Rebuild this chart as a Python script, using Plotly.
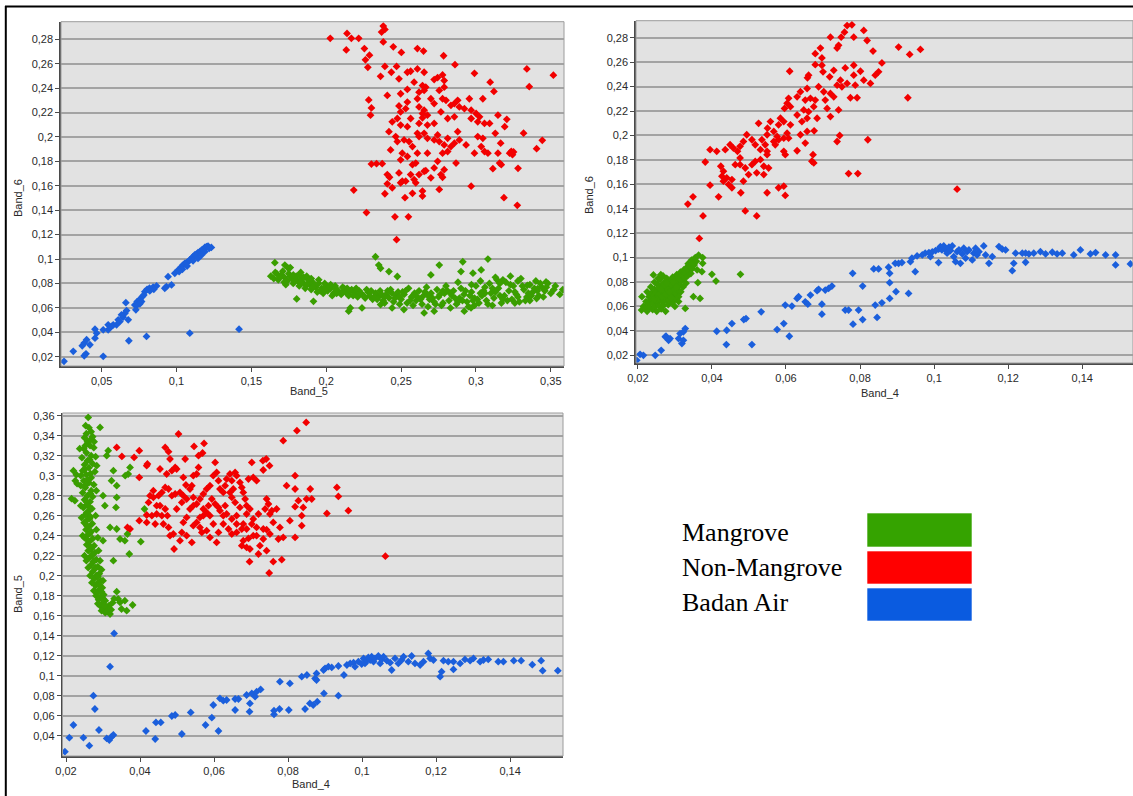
import plotly.graph_objects as go

W, H = 1133, 796

# ---------------- data: panel 1 (Band_5 vs Band_6) ----------------
p1_mangrove = [
    (0.163,0.086),(0.165,0.084),(0.167,0.088),(0.168,0.083),(0.170,0.087),(0.171,0.090),(0.172,0.085),(0.174,0.082),
    (0.175,0.088),(0.176,0.093),(0.177,0.084),(0.178,0.080),(0.180,0.086),(0.181,0.082),(0.182,0.078),(0.183,0.089),
    (0.184,0.084),(0.185,0.080),(0.186,0.076),(0.188,0.083),(0.189,0.079),(0.190,0.075),(0.191,0.081),(0.193,0.077),
    (0.194,0.073),(0.195,0.080),(0.197,0.076),(0.198,0.072),(0.200,0.078),(0.201,0.074),(0.203,0.076),(0.205,0.072),
    (0.206,0.078),(0.208,0.074),(0.210,0.071),(0.212,0.076),(0.213,0.073),(0.215,0.070),(0.217,0.075),(0.219,0.072),
    (0.221,0.069),(0.222,0.074),(0.224,0.071),(0.226,0.068),(0.228,0.073),(0.229,0.070),(0.231,0.067),(0.233,0.072),
    (0.235,0.069),(0.236,0.074),(0.238,0.066),(0.240,0.071),(0.242,0.068),(0.243,0.075),(0.245,0.065),(0.247,0.070),
    (0.248,0.073),(0.250,0.067),(0.252,0.071),(0.254,0.064),(0.255,0.076),(0.257,0.069),(0.259,0.072),(0.260,0.066),
    (0.262,0.074),(0.264,0.063),(0.265,0.070),(0.267,0.077),(0.269,0.067),(0.270,0.072),(0.272,0.065),(0.274,0.075),
    (0.275,0.069),(0.277,0.062),(0.279,0.072),(0.280,0.078),(0.282,0.066),(0.284,0.070),(0.285,0.074),(0.287,0.063),
    (0.289,0.068),(0.290,0.076),(0.292,0.071),(0.294,0.065),(0.295,0.061),(0.297,0.073),(0.299,0.068),(0.300,0.078),
    (0.302,0.064),(0.304,0.070),(0.305,0.074),(0.307,0.066),(0.309,0.080),(0.310,0.072),(0.312,0.068),(0.314,0.083),
    (0.315,0.076),(0.317,0.064),(0.319,0.070),(0.320,0.081),(0.322,0.074),(0.324,0.067),(0.325,0.078),(0.327,0.071),
    (0.329,0.065),(0.330,0.084),(0.332,0.075),(0.334,0.069),(0.336,0.079),(0.338,0.073),(0.340,0.082),(0.342,0.070),
    (0.344,0.077),(0.346,0.074),(0.348,0.080),(0.350,0.072),(0.353,0.078),
    (0.166,0.089),(0.169,0.085),(0.173,0.079),(0.176,0.086),(0.179,0.083),(0.182,0.087),(0.185,0.085),(0.187,0.079),
    (0.190,0.084),(0.192,0.078),(0.196,0.074),(0.199,0.080),(0.202,0.077),(0.204,0.070),(0.207,0.075),(0.211,0.073),
    (0.214,0.076),(0.218,0.070),(0.223,0.072),(0.227,0.075),(0.232,0.069),(0.237,0.071),(0.241,0.074),(0.246,0.068),
    (0.251,0.073),(0.256,0.066),(0.261,0.069),(0.266,0.073),(0.271,0.068),(0.276,0.071),(0.281,0.074),(0.286,0.068),
    (0.291,0.066),(0.296,0.070),(0.301,0.067),(0.306,0.072),(0.311,0.076),(0.316,0.070),(0.321,0.066),(0.326,0.073),
    (0.331,0.078),(0.335,0.072),(0.339,0.076),(0.343,0.080),(0.313,0.085),(0.318,0.083),(0.323,0.086),(0.328,0.082),
    (0.303,0.082),(0.297,0.079),(0.288,0.081),(0.278,0.064),(0.268,0.061),(0.258,0.062),(0.249,0.063),(0.239,0.064),
    (0.244,0.060),(0.283,0.060),(0.299,0.062),(0.311,0.062),(0.326,0.064),(0.336,0.066),(0.345,0.069),(0.352,0.075),
    (0.356,0.071),
    (0.172,0.081),(0.178,0.087),(0.183,0.081),(0.187,0.086),(0.191,0.077),(0.195,0.083),(0.199,0.075),(0.203,0.079),
    (0.207,0.072),(0.211,0.077),(0.216,0.074),(0.220,0.076),(0.225,0.070),(0.230,0.074),(0.234,0.067),(0.239,0.069),
    (0.244,0.072),(0.249,0.069),(0.253,0.074),(0.258,0.070),(0.263,0.067),(0.268,0.070),(0.273,0.063),(0.278,0.074),
    (0.283,0.072),(0.288,0.065),(0.293,0.074),(0.298,0.066),(0.303,0.072),(0.308,0.063),(0.313,0.073),(0.318,0.067),
    (0.323,0.079),(0.328,0.069),(0.333,0.066),(0.337,0.070),(0.341,0.074),(0.347,0.077),(0.316,0.080),(0.306,0.077),
    (0.2329,0.1019),(0.2351,0.0951),(0.2363,0.0924),(0.2419,0.0897),(0.2475,0.0857),(0.1657,0.0970),(0.1724,0.0951),
    (0.1747,0.0924),(0.2755,0.0951),(0.2912,0.0978),(0.3080,0.1000),(0.2980,0.0884),(0.3035,0.0911),(0.2900,0.0897),
    (0.2699,0.0870),(0.1803,0.0673),(0.1915,0.0654),(0.2161,0.0600),(0.2150,0.0573),(0.2239,0.0600),(0.2363,0.0627),
    (0.2519,0.0586),(0.2654,0.0559),(0.2721,0.0573),(0.2922,0.0573),(0.2967,0.0600),(0.3468,0.0812),(0.3580,0.0750),
    (0.3413,0.0758),(0.3405,0.0677),(0.3343,0.0785),
]
p1_nonmangrove = [
    (0.2027,0.2808),(0.2139,0.2848),(0.2168,0.2808),(0.2217,0.2808),(0.2134,0.2713),(0.2255,0.2724),(0.2289,0.2670),
    (0.2262,0.2632),(0.2278,0.2570),(0.2381,0.2908),(0.2392,0.2881),(0.2370,0.2859),(0.2381,0.2778),(0.2448,0.2738),
    (0.2502,0.2692),(0.2609,0.2724),(0.2650,0.2703),(0.2784,0.2665),(0.2860,0.2592),(0.2363,0.2497),(0.2392,0.2578),
    (0.2435,0.2530),(0.2470,0.2578),(0.2486,0.2476),(0.2542,0.2530),(0.2564,0.2538),(0.2609,0.2557),(0.2654,0.2530),
    (0.2721,0.2470),(0.2744,0.2486),(0.2777,0.2508),(0.2788,0.2462),(0.2990,0.2521),(0.3095,0.2449),(0.3120,0.2373),
    (0.2587,0.2449),(0.2643,0.2421),(0.2665,0.2408),(0.2654,0.2381),(0.2620,0.2367),(0.2542,0.2389),(0.2497,0.2354),
    (0.2408,0.2340),(0.2284,0.2303),(0.2302,0.2238),(0.2296,0.2178),(0.2486,0.2254),(0.2497,0.2205),(0.2475,0.2151),
    (0.2531,0.2232),(0.2542,0.2286),(0.2609,0.2313),(0.2620,0.2246),(0.2643,0.2192),(0.2643,0.2157),(0.2676,0.2178),
    (0.2654,0.2219),(0.2699,0.2313),(0.2721,0.2273),(0.2755,0.2381),(0.2788,0.2408),(0.2777,0.2313),(0.2800,0.2300),
    (0.2833,0.2259),(0.2856,0.2273),(0.2878,0.2300),(0.2889,0.2246),(0.2956,0.2313),(0.2968,0.2219),(0.3001,0.2192),
    (0.3024,0.2165),(0.3046,0.2313),(0.3147,0.2178),(0.3192,0.2084),(0.3091,0.2111),(0.3057,0.2111),(0.3012,0.2124),
    (0.2968,0.2151),(0.2923,0.2232),(0.2856,0.2165),(0.2811,0.2151),(0.2766,0.2205),(0.2721,0.2111),(0.2676,0.2097),
    (0.2620,0.2111),(0.2564,0.2151),(0.2542,0.2084),(0.2497,0.2097),(0.2441,0.2124),(0.2419,0.2043),(0.2464,0.2003),
    (0.2475,0.1962),(0.2430,0.1894),(0.2520,0.1976),(0.2553,0.1962),(0.2609,0.2030),(0.2620,0.2003),(0.2654,0.2030),
    (0.2676,0.1989),(0.2721,0.1976),(0.2744,0.2016),(0.2755,0.1962),(0.2788,0.1935),(0.2811,0.1989),(0.2833,0.1921),
    (0.2856,0.1949),(0.2878,0.2043),(0.2889,0.1976),(0.2934,0.1935),(0.3012,0.2003),(0.3046,0.1989),(0.3035,0.1921),
    (0.3057,0.1881),(0.2990,0.1867),(0.3080,0.1867),(0.3129,0.2030),(0.3165,0.1949),(0.3225,0.1867),(0.3158,0.1786),
    (0.3169,0.1773),(0.3113,0.1740),(0.2867,0.1786),(0.2811,0.1881),(0.2777,0.1867),(0.2744,0.1800),(0.2788,0.1732),
    (0.2721,0.1746),(0.2676,0.1867),(0.2609,0.1867),(0.2576,0.1921),(0.2508,0.1867),(0.2497,0.1813),(0.2542,0.1840),
    (0.2576,0.1773),(0.2598,0.1786),(0.2654,0.1719),(0.2665,0.1724),(0.2620,0.1692),(0.2564,0.1692),(0.2486,0.1705),
    (0.2508,0.1638),(0.2408,0.1692),(0.2423,0.1670),(0.2408,0.1616),(0.2441,0.1584),(0.2497,0.1624),(0.2531,0.1638),
    (0.2587,0.1651),(0.2598,0.1624),(0.2699,0.1665),(0.2766,0.1692),(0.2777,0.1670),(0.2755,0.1570),(0.2968,0.1597),
    (0.2643,0.1557),(0.2643,0.1516),(0.2576,0.1538),(0.2526,0.1503),(0.2392,0.1535),(0.2184,0.1565),(0.2302,0.1778),
    (0.2336,0.1781),(0.2374,0.1781),(0.2269,0.1381),(0.2459,0.1346),(0.2549,0.1346),(0.2470,0.1159),(0.3187,0.1503),
    (0.3236,0.1881),(0.3147,0.1867),
    (0.3281,0.1743),(0.3251,0.1877),(0.3276,0.1440),(0.3318,0.2031),(0.3405,0.1904),(0.3443,0.1972),(0.3340,0.2557),
    (0.3356,0.2412),(0.3517,0.2506),(0.3244,0.1855),(0.3206,0.2144),
]
p1_water = [
    (0.0249,0.0162),(0.0311,0.0244),(0.0384,0.0208),(0.0396,0.0224),(0.0511,0.0203),(0.0371,0.0290),(0.0384,0.0312),
    (0.0400,0.0339),(0.0422,0.0298),(0.0456,0.0352),(0.0467,0.0393),(0.0456,0.0426),(0.0511,0.0420),(0.0544,0.0461),
    (0.0544,0.0420),(0.0600,0.0461),(0.0622,0.0488),(0.0644,0.0524),(0.0656,0.0556),(0.0667,0.0578),(0.0678,0.0502),
    (0.0662,0.0643),(0.0682,0.0331),(0.0722,0.0624),(0.0738,0.0652),(0.0756,0.0671),(0.0773,0.0693),(0.0789,0.0733),
    (0.0804,0.0752),(0.0820,0.0761),(0.0844,0.0769),(0.0867,0.0780),(0.0800,0.0366),(0.0933,0.0774),(0.0944,0.0856),
    (0.0967,0.0788),(0.0989,0.0883),(0.1011,0.0910),(0.1033,0.0937),(0.1056,0.0965),(0.1078,0.0978),(0.1100,0.1005),
    (0.1122,0.1033),(0.1144,0.1052),(0.1167,0.1073),(0.1189,0.1095),(0.1211,0.1106),(0.1233,0.1095),(0.1089,0.0393),
    (0.1418,0.0426),(0.1044,0.0951),(0.1067,0.0970),(0.1089,0.0992),(0.1111,0.1019),(0.1133,0.1041),(0.1156,0.1060),
    (0.1178,0.1079),(0.1200,0.1101),(0.1111,0.0986),(0.1144,0.1005),(0.1167,0.1033),(0.1189,0.1060),(0.1071,0.0943),
    (0.1040,0.0916),(0.1018,0.0897),(0.1218,0.1087),(0.0738,0.0624),(0.0767,0.0652),(0.0782,0.0706),(0.0822,0.0739),
    (0.0849,0.0752),(0.0756,0.0633),(0.0729,0.0584),(0.0633,0.0543),(0.0611,0.0502),(0.0578,0.0461),(0.0567,0.0448),
    (0.0922,0.0761),
]

# ---------------- data: panel 2 (Band_4 vs Band_6) ----------------
p2_mangrove = [
    (0.0210,0.0570),(0.0215,0.0600),(0.0220,0.0585),(0.0222,0.0640),(0.0225,0.0560),(0.0228,0.0620),(0.0230,0.0680),
    (0.0232,0.0595),(0.0235,0.0655),(0.0237,0.0710),(0.0240,0.0575),(0.0241,0.0625),(0.0243,0.0690),(0.0245,0.0740),
    (0.0247,0.0600),(0.0248,0.0660),(0.0250,0.0715),(0.0251,0.0560),(0.0253,0.0780),(0.0254,0.0635),(0.0256,0.0690),
    (0.0257,0.0750),(0.0258,0.0605),(0.0260,0.0820),(0.0261,0.0665),(0.0262,0.0720),(0.0263,0.0580),(0.0265,0.0775),
    (0.0266,0.0640),(0.0267,0.0700),(0.0268,0.0850),(0.0270,0.0610),(0.0271,0.0745),(0.0272,0.0675),(0.0273,0.0800),
    (0.0275,0.0560),(0.0276,0.0725),(0.0277,0.0650),(0.0278,0.0830),(0.0280,0.0700),(0.0281,0.0765),(0.0282,0.0615),
    (0.0284,0.0680),(0.0285,0.0790),(0.0286,0.0735),(0.0288,0.0655),(0.0289,0.0810),(0.0290,0.0710),(0.0292,0.0760),
    (0.0293,0.0630),(0.0294,0.0840),(0.0296,0.0690),(0.0297,0.0780),(0.0298,0.0735),(0.0300,0.0660),(0.0301,0.0815),
    (0.0302,0.0755),(0.0304,0.0705),(0.0305,0.0860),(0.0307,0.0790),(0.0308,0.0730),(0.0310,0.0680),(0.0311,0.0830),
    (0.0313,0.0770),(0.0315,0.0880),(0.0316,0.0720),(0.0318,0.0810),(0.0320,0.0855),(0.0322,0.0760),(0.0324,0.0900),
    (0.0326,0.0830),(0.0328,0.0870),(0.0330,0.0790),(0.0332,0.0920),(0.0334,0.0850),(0.0336,0.0950),(0.0338,0.0890),
    (0.0340,0.0930),(0.0343,0.0870),(0.0345,0.0980),(0.0347,0.0910),(0.0350,0.0960),(0.0352,0.0940),(0.0355,0.1000),
    (0.0358,0.0970),(0.0360,0.0900),(0.0364,0.1020),(0.0375,0.1000),(0.0375,0.0953),(0.0362,0.0795),(0.0373,0.0885),
    (0.0350,0.0680),(0.0368,0.0666),(0.0328,0.0584),(0.0400,0.0863),(0.0411,0.0808),(0.0477,0.0863),(0.0300,0.0600),
    (0.0310,0.0640),(0.0255,0.0830),(0.0262,0.0860),(0.0245,0.0800),(0.0235,0.0760),(0.0225,0.0720),(0.0242,0.0858),
    (0.0211,0.0680),
    (0.0250,0.0650),(0.0258,0.0700),(0.0265,0.0680),(0.0270,0.0730),(0.0275,0.0700),(0.0280,0.0740),(0.0285,0.0720),
    (0.0290,0.0780),(0.0270,0.0770),(0.0262,0.0740),(0.0278,0.0790),(0.0295,0.0800),(0.0283,0.0650),(0.0290,0.0670),
    (0.0244,0.0660),(0.0305,0.0760),
]
p2_nonmangrove = [
    (0.0765,0.2900),(0.0778,0.2906),(0.0758,0.2846),(0.0749,0.2805),(0.0720,0.2805),(0.0783,0.2805),(0.0810,0.2860),
    (0.0819,0.2778),(0.0742,0.2738),(0.0738,0.2716),(0.0693,0.2716),(0.0679,0.2670),(0.0697,0.2635),(0.0679,0.2580),
    (0.0697,0.2575),(0.0700,0.2521),(0.0835,0.2691),(0.0859,0.2594),(0.0904,0.2724),(0.0934,0.2664),(0.0963,0.2705),
    (0.0610,0.2526),(0.0661,0.2494),(0.0658,0.2472),(0.0718,0.2480),(0.0729,0.2534),(0.0760,0.2553),(0.0783,0.2575),
    (0.0801,0.2526),(0.0810,0.2453),(0.0828,0.2426),(0.0841,0.2494),(0.0850,0.2521),(0.0783,0.2494),(0.0787,0.2412),
    (0.0765,0.2426),(0.0751,0.2399),(0.0747,0.2453),(0.0738,0.2412),(0.0729,0.2317),(0.0720,0.2344),(0.0702,0.2358),
    (0.0688,0.2399),(0.0657,0.2385),(0.0639,0.2358),(0.0630,0.2317),(0.0652,0.2290),(0.0666,0.2304),(0.0679,0.2290),
    (0.0675,0.2236),(0.0661,0.2195),(0.0648,0.2209),(0.0630,0.2168),(0.0612,0.2236),(0.0603,0.2263),(0.0596,0.2222),
    (0.0585,0.2141),(0.0607,0.2304),(0.0706,0.2290),(0.0711,0.2222),(0.0720,0.2155),(0.0742,0.2209),(0.0774,0.2309),
    (0.0792,0.2309),(0.0929,0.2309),(0.0643,0.2114),(0.0657,0.2141),(0.0684,0.2141),(0.0676,0.2038),(0.0657,0.2033),
    (0.0639,0.2006),(0.0612,0.2087),(0.0594,0.2114),(0.0580,0.2087),(0.0558,0.2114),(0.0550,0.2060),(0.0567,0.2033),
    (0.0603,0.2019),(0.0607,0.1978),(0.0580,0.1965),(0.0567,0.1951),(0.0549,0.2006),(0.0526,0.2100),(0.0535,0.1965),
    (0.0544,0.1924),(0.0549,0.1870),(0.0531,0.1884),(0.0517,0.1924),(0.0508,0.1965),(0.0494,0.2006),(0.0485,0.1951),
    (0.0476,0.1911),(0.0469,0.1870),(0.0458,0.1897),(0.0449,0.1924),(0.0436,0.1884),(0.0413,0.1870),(0.0395,0.1884),
    (0.0382,0.1783),(0.0424,0.1748),(0.0431,0.1707),(0.0427,0.1667),(0.0440,0.1653),(0.0431,0.1626),(0.0445,0.1599),
    (0.0454,0.1572),(0.0454,0.1639),(0.0463,0.1761),(0.0476,0.1761),(0.0490,0.1734),(0.0508,0.1761),(0.0517,0.1788),
    (0.0531,0.1802),(0.0540,0.1748),(0.0553,0.1734),(0.0540,0.1680),(0.0521,0.1694),(0.0499,0.1680),(0.0485,0.1626),
    (0.0476,0.1816),(0.0549,0.1843),(0.0571,0.1924),(0.0594,0.1870),(0.0598,0.1843),(0.0630,0.1875),(0.0652,0.1938),
    (0.0673,0.1843),(0.0670,0.1789),(0.0675,0.1775),(0.0738,0.1951),(0.0745,0.2000),(0.0821,0.1965),(0.0769,0.1688),
    (0.0794,0.1688),(0.0395,0.1593),(0.0418,0.1498),(0.0478,0.1531),(0.0490,0.1382),(0.0521,0.1341),(0.0549,0.1531),
    (0.0580,0.1572),(0.0594,0.1585),(0.0598,0.1509),(0.0349,0.1498),(0.0376,0.1341),(0.0366,0.1157),(0.0594,0.1978),
    (0.0576,0.1992),(0.0335,0.1438),(0.1062,0.1560),
]
p2_water = [
    (0.0197,0.0159),(0.0206,0.0208),(0.0215,0.0200),(0.0247,0.0200),(0.0263,0.0241),(0.0274,0.0351),(0.0283,0.0323),
    (0.0276,0.0356),(0.0287,0.0337),(0.0310,0.0337),(0.0319,0.0296),(0.0323,0.0323),(0.0314,0.0378),(0.0328,0.0419),
    (0.0323,0.0392),(0.0413,0.0397),(0.0439,0.0288),(0.0440,0.0405),(0.0454,0.0460),(0.0486,0.0493),(0.0492,0.0501),
    (0.0508,0.0288),(0.0533,0.0556),(0.0576,0.0411),(0.0594,0.0460),(0.0598,0.0611),(0.0609,0.0356),(0.0616,0.0603),
    (0.0630,0.0666),(0.0634,0.0680),(0.0652,0.0638),(0.0659,0.0619),(0.0666,0.0693),(0.0684,0.0729),(0.0688,0.0740),
    (0.0697,0.0619),(0.0697,0.0537),(0.0706,0.0734),(0.0715,0.0748),(0.0724,0.0767),(0.0760,0.0570),(0.0769,0.0570),
    (0.0780,0.0871),(0.0781,0.0455),(0.0796,0.0570),(0.0807,0.0767),(0.0807,0.0493),(0.0837,0.0907),(0.0841,0.0611),
    (0.0846,0.0510),(0.0850,0.0907),(0.0859,0.0630),(0.0877,0.0921),(0.0880,0.0871),(0.0880,0.0795),(0.0880,0.0666),
    (0.0895,0.0953),(0.0897,0.0721),(0.0904,0.0953),(0.0913,0.0959),(0.0931,0.0707),(0.0936,0.0967),(0.0940,0.0995),
    (0.0949,0.0885),(0.0954,0.1014),(0.0968,0.1022),(0.0976,0.1036),(0.0986,0.1041),(0.0990,0.1008),(0.0995,0.1047),
    (0.1004,0.1058),(0.1012,0.0959),(0.1012,0.1069),(0.1017,0.1090),(0.1021,0.1063),(0.1026,0.1096),(0.1030,0.1069),
    (0.1035,0.1036),(0.1040,0.1085),(0.1044,0.1058),(0.1049,0.1096),(0.1053,0.1008),(0.1058,0.0967),(0.1062,0.1049),
    (0.1067,0.1063),(0.1071,0.0953),(0.1076,0.1030),(0.1080,0.1077),(0.1085,0.0995),(0.1089,0.1049),(0.1094,0.1063),
    (0.1103,0.0981),(0.1107,0.1036),(0.1112,0.1077),(0.1116,0.1022),(0.1121,0.1049),(0.1134,0.1096),(0.1139,0.1022),
    (0.1148,0.0953),(0.1157,0.1008),(0.1175,0.1090),(0.1184,0.1069),(0.1193,0.1063),(0.1211,0.0893),(0.1215,0.0953),
    (0.1220,0.1036),(0.1238,0.1036),(0.1247,0.0962),(0.1247,0.1036),(0.1256,0.1030),(0.1269,0.1036),(0.1287,0.1049),
    (0.1301,0.1030),(0.1319,0.1044),(0.1332,0.1030),(0.1346,0.1036),(0.1377,0.1022),(0.1395,0.1063),(0.1422,0.1030),
    (0.1436,0.1041),(0.1463,0.1022),(0.1490,0.1022),(0.1490,0.0940),(0.1530,0.0948),
]

# ---------------- data: panel 3 (Band_4 vs Band_5) ----------------
p3_mangrove = [
    (0.0260,0.3583),(0.0262,0.3480),(0.0255,0.3420),(0.0268,0.3440),(0.0250,0.3380),(0.0272,0.3390),(0.0258,0.3340),
    (0.0265,0.3300),(0.0248,0.3270),(0.0275,0.3280),(0.0255,0.3230),(0.0268,0.3200),(0.0243,0.3180),(0.0280,0.3190),
    (0.0258,0.3150),(0.0250,0.3110),(0.0272,0.3120),(0.0262,0.3080),(0.0245,0.3050),(0.0278,0.3040),(0.0255,0.3010),
    (0.0268,0.2980),(0.0248,0.2950),(0.0262,0.2930),(0.0275,0.2910),(0.0252,0.2880),(0.0268,0.2850),(0.0245,0.2830),
    (0.0258,0.2800),(0.0272,0.2790),(0.0250,0.2760),(0.0265,0.2740),(0.0256,0.2710),(0.0247,0.2680),(0.0270,0.2670),
    (0.0260,0.2640),(0.0252,0.2610),(0.0266,0.2590),(0.0258,0.2560),(0.0249,0.2530),(0.0271,0.2520),(0.0262,0.2490),
    (0.0254,0.2460),(0.0268,0.2440),(0.0259,0.2410),(0.0250,0.2380),(0.0272,0.2370),(0.0263,0.2340),(0.0256,0.2310),
    (0.0276,0.2300),(0.0268,0.2270),(0.0260,0.2250),(0.0278,0.2230),(0.0270,0.2200),(0.0263,0.2180),(0.0282,0.2160),
    (0.0274,0.2140),(0.0268,0.2110),(0.0286,0.2090),(0.0278,0.2070),(0.0272,0.2040),(0.0290,0.2020),(0.0282,0.2000),
    (0.0276,0.1970),(0.0294,0.1950),(0.0286,0.1930),(0.0280,0.1900),(0.0298,0.1880),(0.0290,0.1860),(0.0284,0.1830),
    (0.0302,0.1810),(0.0294,0.1790),(0.0288,0.1760),(0.0306,0.1750),(0.0298,0.1720),(0.0292,0.1700),(0.0310,0.1690),
    (0.0302,0.1670),(0.0296,0.1650),(0.0314,0.1640),(0.0306,0.1630),(0.0319,0.1617),(0.0322,0.1660),(0.0316,0.1700),
    (0.0326,0.1730),(0.0240,0.3000),(0.0276,0.3340),(0.0283,0.3100),(0.0240,0.2900),(0.0282,0.2850),(0.0240,0.2700),
    (0.0280,0.2600),(0.0242,0.2580),(0.0282,0.2460),(0.0245,0.2400),(0.0286,0.2380),(0.0250,0.2200),(0.0255,0.2150),
    (0.0260,0.2080),(0.0265,0.2000),(0.0270,0.1930),(0.0275,0.1850),(0.0281,0.1800),(0.0286,0.1720),(0.0292,0.1780),
    (0.0300,0.1950),(0.0296,0.2060),(0.0292,0.2150),(0.0288,0.2250),
    (0.0253,0.3500),(0.0266,0.3360),(0.0252,0.3300),(0.0264,0.3160),(0.0250,0.3060),(0.0266,0.3020),(0.0258,0.2960),
    (0.0252,0.2900),(0.0266,0.2820),(0.0255,0.2740),(0.0262,0.2690),(0.0256,0.2630),(0.0264,0.2570),(0.0256,0.2500),
    (0.0264,0.2420),(0.0257,0.2360),(0.0266,0.2290),(0.0272,0.2220),(0.0276,0.2150),(0.0280,0.2080),(0.0286,0.1990),
    (0.0290,0.1910),(0.0296,0.1840),(0.0300,0.1770),(0.0304,0.1700),
    (0.0224,0.2750),(0.0215,0.2770),(0.0220,0.3050),(0.0228,0.3010),(0.0225,0.2950),(0.0237,0.3270),(0.0230,0.2920),
    (0.0292,0.3483),(0.0314,0.3250),(0.0328,0.3050),(0.0323,0.2950),(0.0373,0.3083),(0.0368,0.3017),(0.0360,0.3000),
    (0.0337,0.2783),(0.0335,0.2683),(0.0337,0.2900),(0.0319,0.2483),(0.0337,0.2467),(0.0346,0.2367),(0.0359,0.2350),
    (0.0366,0.2417),(0.0371,0.2217),(0.0412,0.2667),(0.0402,0.2340),(0.0328,0.2150),(0.0337,0.1840),(0.0346,0.1733),
    (0.0359,0.1750),(0.0364,0.1650),(0.0380,0.1707),(0.0350,0.1667),(0.0341,0.1767),(0.0330,0.1770),(0.0310,0.3200),
    (0.0300,0.2800),(0.0305,0.2700),(0.0300,0.2350),
]
p3_nonmangrove = [
    (0.0337,0.3283),(0.0351,0.3193),(0.0384,0.3183),(0.0398,0.3250),(0.0398,0.2983),(0.0418,0.3100),(0.0420,0.3117),
    (0.0454,0.3067),(0.0468,0.3283),(0.0477,0.3240),(0.0481,0.3167),(0.0472,0.3017),(0.0486,0.3050),(0.0495,0.3083),
    (0.0499,0.3067),(0.0504,0.3417),(0.0522,0.3167),(0.0517,0.2983),(0.0546,0.3293),(0.0558,0.3200),(0.0569,0.3227),
    (0.0573,0.3323),(0.0558,0.3083),(0.0553,0.3017),(0.0544,0.3000),(0.0540,0.2900),(0.0535,0.2867),(0.0524,0.2907),
    (0.0517,0.2800),(0.0508,0.2833),(0.0495,0.2817),(0.0486,0.2800),(0.0477,0.2867),(0.0468,0.2883),(0.0459,0.2833),
    (0.0450,0.2800),(0.0436,0.2850),(0.0427,0.2800),(0.0423,0.2733),(0.0436,0.2783),(0.0454,0.2700),(0.0468,0.2667),
    (0.0474,0.2600),(0.0459,0.2600),(0.0445,0.2617),(0.0432,0.2600),(0.0418,0.2533),(0.0441,0.2517),(0.0463,0.2517),
    (0.0477,0.2483),(0.0481,0.2400),(0.0490,0.2417),(0.0492,0.2267),(0.0513,0.2433),(0.0517,0.2533),(0.0526,0.2583),
    (0.0535,0.2667),(0.0544,0.2700),(0.0553,0.2717),(0.0562,0.2767),(0.0571,0.2817),(0.0580,0.2867),(0.0589,0.2900),
    (0.0598,0.3000),(0.0603,0.3133),(0.0607,0.3033),(0.0612,0.2950),(0.0616,0.2867),(0.0625,0.2833),(0.0630,0.2900),
    (0.0634,0.2967),(0.0643,0.3017),(0.0648,0.2950),(0.0657,0.3033),(0.0661,0.3000),(0.0670,0.2933),(0.0675,0.2883),
    (0.0679,0.2833),(0.0684,0.2767),(0.0688,0.2700),(0.0693,0.2967),(0.0706,0.2983),(0.0715,0.2950),(0.0702,0.3133),
    (0.0732,0.3150),(0.0741,0.3167),(0.0750,0.3100),(0.0733,0.3057),(0.0819,0.3000),(0.0787,0.3350),(0.0824,0.3450),
    (0.0849,0.3533),(0.0796,0.2900),(0.0819,0.2867),(0.0860,0.2867),(0.0850,0.2767),(0.0864,0.2767),(0.0932,0.2883),
    (0.0936,0.2793),(0.0905,0.2623),(0.0963,0.2650),(0.0841,0.2683),(0.0819,0.2690),(0.0828,0.2750),(0.0837,0.2600),
    (0.0837,0.2500),(0.0805,0.2550),(0.0819,0.2383),(0.0787,0.2383),(0.0774,0.2367),(0.0778,0.2483),(0.0760,0.2533),
    (0.0751,0.2617),(0.0756,0.2650),(0.0769,0.2667),(0.0742,0.2767),(0.0747,0.2717),(0.0738,0.2667),(0.0720,0.2617),
    (0.0706,0.2567),(0.0702,0.2517),(0.0715,0.2483),(0.0733,0.2467),(0.0742,0.2460),(0.0751,0.2417),(0.0715,0.2400),
    (0.0693,0.2373),(0.0679,0.2350),(0.0675,0.2300),(0.0688,0.2283),(0.0697,0.2267),(0.0724,0.2300),(0.0742,0.2250),
    (0.0720,0.2217),(0.0696,0.2140),(0.0760,0.2140),(0.0783,0.2160),(0.0749,0.2027),(0.0661,0.2517),(0.0648,0.2567),
    (0.0634,0.2617),(0.0625,0.2600),(0.0616,0.2650),(0.0612,0.2683),(0.0603,0.2717),(0.0594,0.2767),(0.0585,0.2700),
    (0.0580,0.2633),(0.0571,0.2600),(0.0562,0.2583),(0.0553,0.2533),(0.0544,0.2500),(0.0562,0.2483),(0.0580,0.2450),
    (0.0598,0.2517),(0.0612,0.2433),(0.0607,0.2333),(0.0589,0.2383),(0.0567,0.2433),(0.0540,0.2333),(0.0526,0.2400),
    (0.0508,0.2350),(0.0648,0.2417),(0.0661,0.2433),(0.0675,0.2467),(0.0679,0.2517),(0.0688,0.2617),(0.0670,0.2683),
    (0.0657,0.2733),(0.0648,0.2783),(0.0643,0.2833),(0.0652,0.2867),(0.0630,0.2700),(0.0697,0.2667),(0.0661,0.2600),
    (0.0373,0.2467),(0.0366,0.2483),(0.0398,0.2550),(0.0418,0.2607),(0.0445,0.2700),(0.0499,0.2667),(0.0513,0.2733),
    (0.0526,0.2767),(0.0544,0.2783),(0.0571,0.2667),(0.0589,0.2600),(0.0625,0.2517),(0.0639,0.2467),(0.0688,0.2467),
    (0.0706,0.2400),(0.0733,0.2367),(0.1063,0.2195),
]
p3_water = [
    (0.0197,0.0240),(0.0209,0.0380),(0.0220,0.0507),(0.0247,0.0380),(0.0263,0.0300),(0.0274,0.0800),(0.0278,0.0667),
    (0.0289,0.0457),(0.0310,0.0373),(0.0317,0.0357),(0.0323,0.0390),(0.0328,0.0407),(0.0319,0.1090),(0.0330,0.1423),
    (0.0416,0.0447),(0.0441,0.0367),(0.0443,0.0533),(0.0456,0.0533),(0.0486,0.0597),(0.0495,0.0607),(0.0513,0.0417),
    (0.0537,0.0633),(0.0577,0.0507),(0.0594,0.0580),(0.0598,0.0707),(0.0612,0.0447),(0.0616,0.0773),(0.0625,0.0750),
    (0.0634,0.0757),(0.0657,0.0657),(0.0657,0.0767),(0.0666,0.0767),(0.0688,0.0807),(0.0696,0.0640),(0.0697,0.0723),
    (0.0702,0.0823),(0.0711,0.0790),(0.0715,0.0840),(0.0726,0.0863),(0.0762,0.0613),(0.0762,0.0650),(0.0777,0.0667),
    (0.0778,0.0940),(0.0802,0.0657),(0.0805,0.0923),(0.0837,0.0990),(0.0846,0.0667),(0.0851,0.1007),(0.0859,0.0723),
    (0.0868,0.0707),(0.0877,0.1023),(0.0879,0.0740),(0.0873,0.0973),(0.0877,0.0957),(0.0896,0.1057),(0.0897,0.0823),
    (0.0900,0.1073),(0.0909,0.1090),(0.0918,0.1083),(0.0936,0.0800),(0.0936,0.1097),(0.0951,0.1007),(0.0959,0.1107),
    (0.0968,0.1123),(0.0977,0.1130),(0.0981,0.1090),(0.0990,0.1140),(0.0999,0.1117),(0.1004,0.1173),(0.1008,0.1123),
    (0.1013,0.1150),(0.1017,0.1183),(0.1022,0.1157),(0.1026,0.1190),(0.1031,0.1140),(0.1035,0.1173),(0.1044,0.1197),
    (0.1049,0.1123),(0.1053,0.1163),(0.1058,0.1190),(0.1067,0.1150),(0.1076,0.1130),(0.1080,0.1057),(0.1089,0.1173),
    (0.1098,0.1123),(0.1107,0.1157),(0.1112,0.1190),(0.1125,0.1140),(0.1134,0.1197),(0.1143,0.1123),(0.1157,0.1107),
    (0.1166,0.1140),(0.1179,0.1223),(0.1184,0.1173),(0.1193,0.1157),(0.1211,0.0990),(0.1215,0.1040),(0.1220,0.1150),
    (0.1233,0.1140),(0.1247,0.1063),(0.1247,0.1140),(0.1265,0.1123),(0.1278,0.1163),(0.1292,0.1150),(0.1301,0.1173),
    (0.1319,0.1140),(0.1328,0.1157),(0.1341,0.1163),(0.1368,0.1140),(0.1382,0.1140),(0.1410,0.1150),(0.1430,0.1150),
    (0.1460,0.1110),(0.1484,0.1150),(0.1488,0.1050),(0.1529,0.1050),
]

# ---------------- ticks ----------------
p1_x_ticks = [0.05, 0.10, 0.15, 0.20, 0.25, 0.30, 0.35]
p1_x_labels = ["0,05", "0,1", "0,15", "0,2", "0,25", "0,3", "0,35"]
b6_ticks = [0.02, 0.04, 0.06, 0.08, 0.10, 0.12, 0.14, 0.16, 0.18, 0.20, 0.22, 0.24, 0.26, 0.28]
b6_labels = ["0,02", "0,04", "0,06", "0,08", "0,1", "0,12", "0,14", "0,16", "0,18", "0,2", "0,22", "0,24", "0,26", "0,28"]
b4_ticks = [0.02, 0.04, 0.06, 0.08, 0.10, 0.12, 0.14]
b4_labels = ["0,02", "0,04", "0,06", "0,08", "0,1", "0,12", "0,14"]
p3_y_ticks = [0.04, 0.06, 0.08, 0.10, 0.12, 0.14, 0.16, 0.18, 0.20, 0.22, 0.24, 0.26, 0.28, 0.30, 0.32, 0.34, 0.36]
p3_y_labels = ["0,04", "0,06", "0,08", "0,1", "0,12", "0,14", "0,16", "0,18", "0,2", "0,22", "0,24", "0,26",
               "0,28", "0,3", "0,32", "0,34", "0,36"]

classes = ["Mangrove", "Non-Mangrove", "Badan Air"]
marker_colors = {"Mangrove": "#3a9e00", "Non-Mangrove": "#f20000", "Badan Air": "#1b5fdc"}
legend_colors = {"Mangrove": "#35a300", "Non-Mangrove": "#ff0000", "Badan Air": "#0a5be0"}

panels = [
    ("", {"Mangrove": p1_mangrove, "Non-Mangrove": p1_nonmangrove, "Badan Air": p1_water}),
    ("2", {"Mangrove": p2_mangrove, "Non-Mangrove": p2_nonmangrove, "Badan Air": p2_water}),
    ("3", {"Mangrove": p3_mangrove, "Non-Mangrove": p3_nonmangrove, "Badan Air": p3_water}),
]

fig = go.Figure()
for suffix, data in panels:
    for c in ["Badan Air", "Mangrove", "Non-Mangrove"]:
        pts = data[c]
        fig.add_trace(go.Scatter(
            x=[p[0] for p in pts], y=[p[1] for p in pts], mode="markers",
            marker=dict(symbol="diamond", size=6, color=marker_colors[c], line=dict(width=0)),
            xaxis="x" + suffix, yaxis="y" + suffix, showlegend=False, hoverinfo="skip", name=c))

def px_x(p):
    return p / W

def px_y(p):
    return 1 - p / H

tick_font = dict(family="Liberation Sans, Arial, sans-serif", size=11, color="#2a2a2a")
axis_common = dict(showline=True, linecolor="#4a4a4a", linewidth=1.5, ticks="outside", tickcolor="#4a4a4a",
                   ticklen=4, tickfont=tick_font, zeroline=False, fixedrange=True, automargin=False)

layout = dict(
    width=W, height=H, margin=dict(l=0, r=0, t=0, b=0, pad=0), autosize=False,
    paper_bgcolor="white", plot_bgcolor="#e2e2e2", showlegend=False,
    xaxis=dict(domain=[px_x(61), px_x(564)], range=[0.0229, 0.3588], tickvals=p1_x_ticks, ticktext=p1_x_labels,
               showgrid=False, anchor="y", **axis_common),
    yaxis=dict(domain=[px_y(366), px_y(21.7)], range=[0.0124, 0.2944], tickvals=b6_ticks, ticktext=b6_labels,
               showgrid=True, gridcolor="#a3a3a3", gridwidth=1.5, anchor="x", **axis_common),
    xaxis2=dict(domain=[px_x(636), 1.0], range=[0.0195, 0.1537], tickvals=b4_ticks, ticktext=b4_labels,
                showgrid=False, anchor="y2", **axis_common),
    yaxis2=dict(domain=[px_y(363), px_y(20.7)], range=[0.0137, 0.2940], tickvals=b6_ticks, ticktext=b6_labels,
                showgrid=True, gridcolor="#a3a3a3", gridwidth=1.5, anchor="x2", **axis_common),
    xaxis3=dict(domain=[px_x(62.5), px_x(563)], range=[0.01905, 0.1543], tickvals=b4_ticks, ticktext=b4_labels,
                showgrid=False, anchor="y3", **axis_common),
    yaxis3=dict(domain=[px_y(756), px_y(413)], range=[0.0197, 0.3627], tickvals=p3_y_ticks, ticktext=p3_y_labels,
                showgrid=True, gridcolor="#a3a3a3", gridwidth=1.5, anchor="x3", **axis_common),
)
fig.update_layout(**layout)

shapes = []
for s in ["", "2", "3"]:
    shapes.append(dict(type="rect", xref="x" + s + " domain", yref="y" + s + " domain", x0=0, x1=1, y0=0, y1=1,
                       line=dict(color="#9c9c9c", width=1), fillcolor="rgba(0,0,0,0)", layer="above"))
shapes.append(dict(type="line", xref="paper", yref="paper", x0=px_x(5), x1=1.0, y0=px_y(6.5), y1=px_y(6.5),
                   line=dict(color="black", width=2)))
shapes.append(dict(type="line", xref="paper", yref="paper", x0=px_x(5.8), x1=px_x(5.8), y0=0, y1=px_y(6),
                   line=dict(color="black", width=2)))
box_rows = [(513, 547), (551, 584), (588, 621)]
for c, (t, b) in zip(classes, box_rows):
    shapes.append(dict(type="rect", xref="paper", yref="paper", x0=px_x(867), x1=px_x(972), y0=px_y(b), y1=px_y(t),
                       line=dict(color="rgba(255,255,255,0.6)", width=1), fillcolor=legend_colors[c]))
fig.update_layout(shapes=shapes)

title_font = dict(family="Liberation Sans, Arial, sans-serif", size=11, color="#2a2a2a")
annotations = [
    dict(text="Band_6", x=px_x(18), y=px_y(198), textangle=-90),
    dict(text="Band_5", x=px_x(309), y=px_y(391)),
    dict(text="Band_6", x=px_x(589), y=px_y(195), textangle=-90),
    dict(text="Band_4", x=px_x(880), y=px_y(393)),
    dict(text="Band_5", x=px_x(18), y=px_y(594), textangle=-90),
    dict(text="Band_4", x=px_x(311), y=px_y(784)),
]
annotations = [dict(a, xref="paper", yref="paper", showarrow=False, font=title_font,
                    xanchor="center", yanchor="middle") for a in annotations]
legend_font = dict(family="Liberation Serif, Times New Roman, serif", size=26, color="black")
for c, yc in zip(classes, [532, 567, 602]):
    annotations.append(dict(text=c, x=px_x(680), y=px_y(yc), xref="paper", yref="paper", showarrow=False,
                            font=legend_font, xanchor="left", yanchor="middle"))
fig.update_layout(annotations=annotations)

fig.write_html(
    "out.html",
    config={"displayModeBar": False},
    post_script="document.body.style.margin='0px';document.body.style.overflow='hidden';",
)
